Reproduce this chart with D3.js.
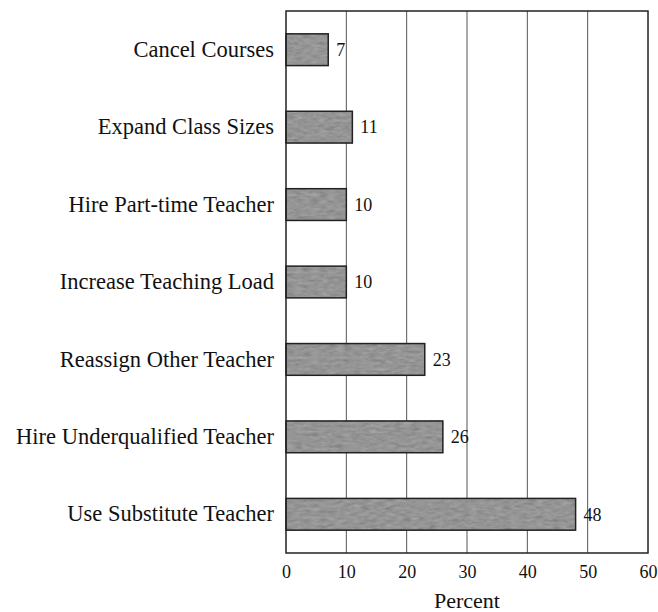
<!DOCTYPE html>
<html>
<head>
<meta charset="utf-8">
<script src="https://cdn.jsdelivr.net/npm/d3@7"></script>
<style>
  body { margin: 0; background: #fff; }
  text { font-family: "Liberation Serif", "DejaVu Serif", serif; fill: #111; }
</style>
</head>
<body>
<svg id="chart" width="658" height="612"></svg>
<script>
const categories = [
  'Cancel Courses',
  'Expand Class Sizes',
  'Hire Part-time Teacher',
  'Increase Teaching Load',
  'Reassign Other Teacher',
  'Hire Underqualified Teacher',
  'Use Substitute Teacher'
];
const values = [7, 11, 10, 10, 23, 26, 48];
const xTicks = [0, 10, 20, 30, 40, 50, 60];

const margin = { top: 11, right: 10, bottom: 59, left: 286 };
const width = 658 - margin.left - margin.right;
const height = 612 - margin.top - margin.bottom;

const svg = d3.select('#chart');
const g = svg.append('g').attr('transform', `translate(${margin.left},${margin.top})`);

const x = d3.scaleLinear().domain([0, 60]).range([0, width]);
const y = d3.scaleBand().domain(categories).range([0, height]).paddingInner(0.59).paddingOuter(0.295);

// grainy gray texture for the bars (scanned look)
const defs = svg.append('defs');
const filter = defs.append('filter').attr('id', 'mottle').attr('x', 0).attr('y', 0).attr('width', 1).attr('height', 1);
filter.append('feTurbulence').attr('type', 'fractalNoise').attr('baseFrequency', '0.12 0.35').attr('numOctaves', 3).attr('seed', 7).attr('result', 'noise');
filter.append('feColorMatrix').attr('in', 'noise').attr('type', 'matrix')
  .attr('values', '0.33 0.33 0.33 0 0  0.33 0.33 0.33 0 0  0.33 0.33 0.33 0 0  0 0 0 0 1').attr('result', 'gray');
filter.append('feComposite').attr('in', 'SourceGraphic').attr('in2', 'gray').attr('operator', 'arithmetic')
  .attr('k1', 0).attr('k2', 1).attr('k3', 0.35).attr('k4', -0.18);

// gridlines
g.append('g')
  .selectAll('line')
  .data(xTicks.slice(1, -1))
  .join('line')
  .attr('x1', d => x(d)).attr('x2', d => x(d))
  .attr('y1', 0).attr('y2', height)
  .attr('stroke', '#555').attr('stroke-width', 1);

// bars
g.append('g')
  .selectAll('rect')
  .data(values)
  .join('rect')
  .attr('x', x(0))
  .attr('y', (d, i) => y(categories[i]))
  .attr('width', d => x(d))
  .attr('height', y.bandwidth())
  .attr('fill', '#969696')
  .attr('filter', 'url(#mottle)');

g.append('g')
  .selectAll('rect')
  .data(values)
  .join('rect')
  .attr('x', x(0))
  .attr('y', (d, i) => y(categories[i]))
  .attr('width', d => x(d))
  .attr('height', y.bandwidth())
  .attr('fill', 'none')
  .attr('stroke', '#222').attr('stroke-width', 1.5);

// value labels
g.append('g')
  .selectAll('text')
  .data(values)
  .join('text')
  .attr('x', d => x(d) + 8)
  .attr('y', (d, i) => y(categories[i]) + y.bandwidth() / 2)
  .attr('dy', '0.35em')
  .attr('font-size', 18)
  .text(d => d);

// frame
g.append('rect')
  .attr('width', width).attr('height', height)
  .attr('fill', 'none').attr('stroke', '#222').attr('stroke-width', 1.5);

// x axis
const xAxis = g.append('g')
  .attr('transform', `translate(0,${height})`)
  .call(d3.axisBottom(x).tickValues(xTicks).tickSize(0).tickPadding(12));
xAxis.select('.domain').remove();
xAxis.selectAll('text').attr('font-size', 18).attr('font-family', '"Liberation Serif", serif').attr('fill', '#111');

// y axis
const yAxis = g.append('g')
  .call(d3.axisLeft(y).tickSize(0).tickPadding(12));
yAxis.select('.domain').remove();
yAxis.selectAll('text').attr('font-size', 22.5).attr('font-family', '"Liberation Serif", serif').attr('fill', '#111');

// axis title
g.append('text')
  .attr('x', x(30))
  .attr('y', height + 55)
  .attr('text-anchor', 'middle')
  .attr('font-size', 22)
  .text('Percent');
</script>
</body>
</html>
